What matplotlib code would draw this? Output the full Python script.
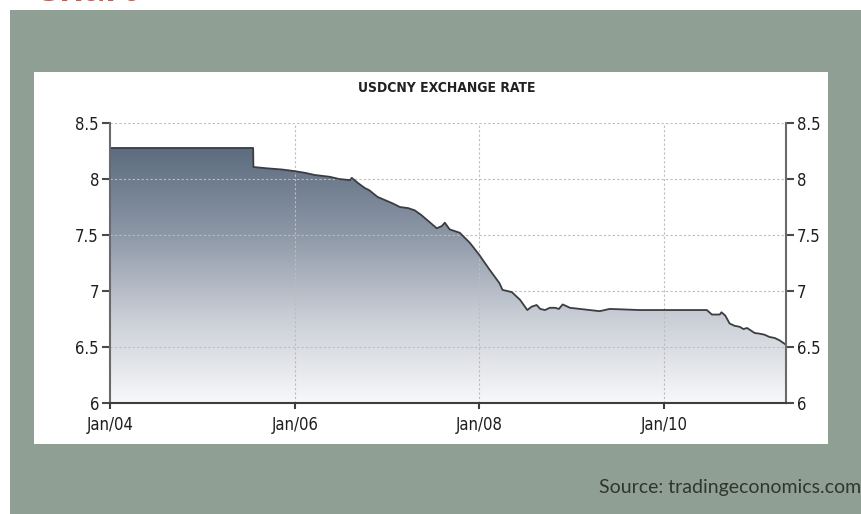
import pandas as pd
import numpy as np
import matplotlib
matplotlib.use('Agg')
import matplotlib.pyplot as plt
import matplotlib.dates as mdates
from matplotlib.colors import LinearSegmentedColormap
from matplotlib.patches import Rectangle

## data ##
dates = ['2004-01-01', '2005-07-20', '2005-07-21', '2005-09-15', '2005-11-10', '2006-01-01',
         '2006-02-10', '2006-03-20', '2006-05-18', '2006-06-25', '2006-08-07', '2006-08-14',
         '2006-09-10', '2006-10-04', '2006-10-22', '2006-11-24', '2006-12-25', '2007-01-25',
         '2007-02-20', '2007-03-25', '2007-04-20', '2007-05-15', '2007-06-10', '2007-07-16',
         '2007-08-05', '2007-08-17', '2007-09-05', '2007-10-15', '2007-11-24', '2008-01-01',
         '2008-02-10', '2008-03-20', '2008-04-01', '2008-04-20', '2008-05-08', '2008-06-10',
         '2008-07-08', '2008-07-25', '2008-08-14', '2008-08-28', '2008-09-16', '2008-10-05',
         '2008-10-26', '2008-11-10', '2008-11-25', '2008-12-24', '2009-02-01', '2009-04-20',
         '2009-05-30', '2009-09-26', '2010-01-15', '2010-06-18', '2010-07-08', '2010-08-08',
         '2010-08-15', '2010-08-30', '2010-09-16', '2010-10-05', '2010-10-26', '2010-11-10',
         '2010-11-24', '2010-12-24', '2011-01-10', '2011-02-01', '2011-02-20', '2011-03-14',
         '2011-04-01', '2011-04-27']
rate = [8.277, 8.277, 8.107, 8.095, 8.085, 8.07,
        8.055, 8.036, 8.02, 8.00, 7.99, 8.01,
        7.96, 7.92, 7.90, 7.84, 7.81, 7.78,
        7.75, 7.74, 7.72, 7.68, 7.63, 7.56,
        7.58, 7.61, 7.55, 7.52, 7.43, 7.32,
        7.19, 7.07, 7.01, 7.00, 6.99, 6.92,
        6.83, 6.86, 6.875, 6.84, 6.83, 6.85,
        6.85, 6.84, 6.88, 6.85, 6.84, 6.82,
        6.84, 6.83, 6.83, 6.83, 6.79, 6.79,
        6.81, 6.78, 6.71, 6.69, 6.68, 6.66,
        6.67, 6.625, 6.62, 6.61, 6.59, 6.58,
        6.56, 6.52]
y_ticks = [6, 6.5, 7, 7.5, 8, 8.5]
y_labels = ['6', '6.5', '7', '7.5', '8', '8.5']
x_ticks = ['2004-01-01', '2006-01-01', '2008-01-01', '2010-01-01']

df = pd.DataFrame({'date': pd.to_datetime(dates), 'rate': rate})
x = mdates.date2num(df['date'])

## figure and backdrop ##
fig = plt.figure(figsize=(8.62, 5.14), dpi=100)
fig.patch.set_facecolor('white')
fig.patches.append(Rectangle((10 / 862, 0), 852 / 862, 504 / 514, transform=fig.transFigure,
                             facecolor='#909f94', edgecolor='none', zorder=-2))
fig.patches.append(Rectangle((34 / 862, 1 - 444 / 514), 794 / 862, 372 / 514, transform=fig.transFigure,
                             facecolor='white', edgecolor='none', zorder=-1))
# page heading, cut off at the top edge as in the slide
fig.text(31 / 862, 1 - 1 / 514, 'Chart', color='#e0533c', fontsize=31, family='Lato',
         fontweight='bold', va='baseline', ha='left')
fig.text(861 / 862, 1 - 488 / 514, 'Source: tradingeconomics.com', color='#2f3632', fontsize=14,
         family='Lato', ha='right', va='center')

ax = fig.add_axes([110 / 862, 1 - 403 / 514, 676 / 862, 280 / 514])
ax.set_zorder(1)
ax.set_facecolor('white')

## gradient area ##
cmap = LinearSegmentedColormap.from_list('grad', ['#f8f8fa', '#c9ced6', '#8b96a5', '#5b6a7e'])
grad = np.linspace(0, 1, 256).reshape(-1, 1)
poly = ax.fill_between(x, rate, 6, facecolor='none', edgecolor='none')
im = ax.imshow(grad, aspect='auto', cmap=cmap, origin='lower',
               extent=[x[0], x[-1], 6, 8.3], zorder=1)
im.set_clip_path(poly.get_paths()[0], transform=ax.transData)
ax.plot(x, rate, color='#3b3d40', linewidth=1.3, zorder=3)
ax.set_xlim(x[0], x[-1])
ax.set_ylim(6, 8.5)

## grid ##
tick_nums = mdates.date2num(pd.to_datetime(x_ticks))
for yv in y_ticks[1:]:
    ax.axhline(yv, color='#bdbdbd', linewidth=0.8, linestyle=(0, (2, 2)), zorder=2)
for xv in tick_nums[1:]:
    ax.axvline(xv, color='#bdbdbd', linewidth=0.8, linestyle=(0, (2, 2)), zorder=2)

## axes styling ##
ax.spines['top'].set_visible(False)
ax.spines['left'].set_color('#6a6a6a')
ax.spines['right'].set_color('#6a6a6a')
ax.spines['bottom'].set_color('#3d3d3d')
for s in ['left', 'right', 'bottom']:
    ax.spines[s].set_linewidth(1.5)
    ax.spines[s].set_zorder(4)

ax.set_xticks(tick_nums)
ax.xaxis.set_major_formatter(mdates.DateFormatter('%b/%y'))
ax.set_yticks(y_ticks)
ax.set_yticklabels(y_labels)
ax.tick_params(axis='y', which='both', left=True, right=True, labelleft=True, labelright=True,
               length=6, width=1.5, color='#4a4a4a', pad=2, direction='out')
ax.tick_params(axis='x', length=4, width=1.5, color='#3d3d3d', pad=5, direction='out')
for lab in ax.get_xticklabels() + ax.get_yticklabels():
    lab.set_fontsize(12)
    lab.set_fontstretch('condensed')
    lab.set_color('#1e1e1e')

fig.text(447 / 862, 1 - 88 / 514, 'USDCNY EXCHANGE RATE', fontsize=10, fontweight='bold',
         fontstretch='condensed', color='#222222', ha='center', va='center')

plt.savefig('out.png', dpi=100)
